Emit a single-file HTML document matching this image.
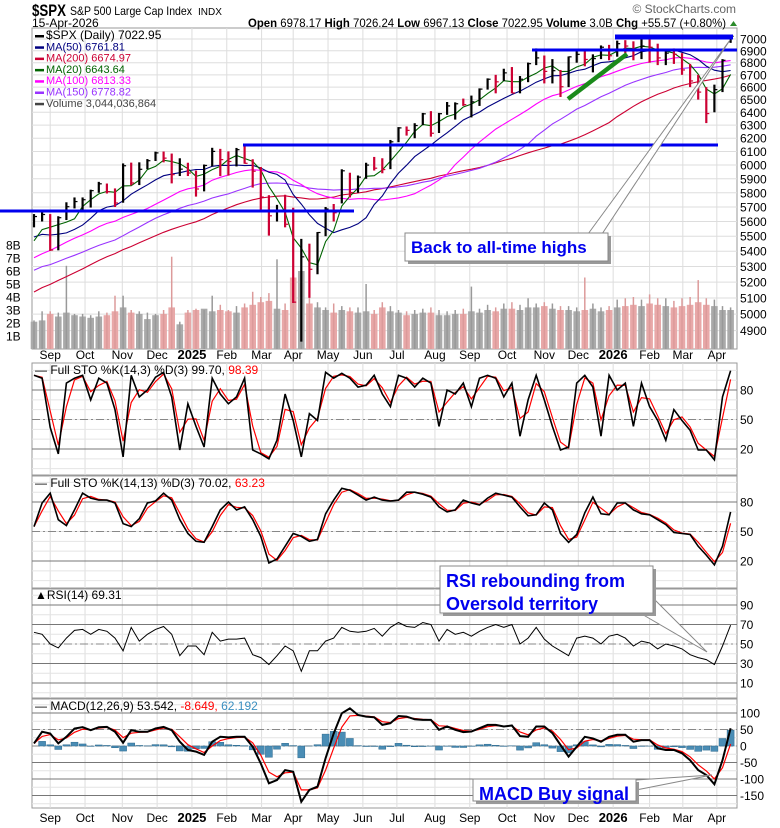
<!DOCTYPE html>
<html><head><meta charset="utf-8"><style>
body{margin:0;background:#fff;}
svg{display:block;font-family:"Liberation Sans",sans-serif;}
</style></head><body>
<svg id="chart" width="780" height="828" viewBox="0 0 780 828" xmlns="http://www.w3.org/2000/svg">
<g id="grid"></g><g id="marks"></g><g id="anno"></g><g id="labels"></g>
</svg>
<script>
const priorCloses=[4514,4559,4594,4604,4719,4754,4769,4697,4783,4839,4890,4958,5026,5005,5088,5137,5123,5117,5234,5254,5204,5123,4967,5099,5127,5222,5303,5304,5277,5346,5431,5464,5460,5567,5615,5505,5459,5346,5344,5554];
const closes=[5634,5648,5408,5626,5702,5738,5751,5815,5864,5808,5728,5995,5870,5969,6032,6090,6051,5930,5970,5942,5827,5997,6101,6040,6026,6114,6013,5955,5770,5639,5667,5581,5074,5363,5282,5525,5686,5660,5958,5802,5912,6000,5977,5967,6173,6279,6260,6297,6388,6238,6389,6450,6467,6460,6482,6584,6664,6643,6716,6553,6664,6792,6840,6728,6734,6603,6849,6870,6827,6834,6930,6858,6960,6940,6915,6940,6930,6840,6880,6870,6740,6650,6560,6390,6580,6820,7023];
const highs=[5651,5670,5651,5636,5733,5767,5767,5822,5878,5866,5831,6012,6018,6020,6044,6099,6100,6085,6050,6017,5960,6004,6128,6120,6101,6127,6147,6043,5986,5783,5715,5786,5695,5482,5450,5528,5700,5721,5969,5944,5924,6017,6060,6050,6187,6285,6290,6315,6395,6409,6395,6481,6478,6508,6532,6590,6671,6700,6750,6764,6690,6801,6920,6860,6830,6740,6852,6895,6902,6870,6945,6950,6986,6990,6980,7000,7002,6960,6910,6920,6880,6790,6700,6600,6620,6830,7026];
const lows=[5560,5600,5402,5406,5610,5690,5675,5696,5800,5795,5700,5730,5853,5855,5970,6030,6020,5867,5920,5920,5773,5810,5990,5920,5923,5990,6010,5837,5666,5504,5600,5560,5069,4835,5101,5250,5500,5600,5725,5767,5800,5900,5960,5940,5970,6170,6220,6200,6300,6212,6240,6380,6343,6450,6360,6450,6580,6550,6650,6550,6550,6640,6780,6630,6630,6521,6600,6800,6770,6720,6830,6820,6850,6880,6820,6830,6800,6780,6780,6790,6700,6600,6500,6316,6400,6560,6967];
const volAvg=[2.1,2.2,2.7,2.5,2.8,2.6,2.5,2.4,2.5,2.6,2.9,3.2,2.8,2.7,2.3,2.6,2.7,3.2,1.9,
2.8,3.0,3.1,2.9,3.0,2.9,2.8,3.2,3.4,3.6,3.7,3.1,3.0,5.5,6.0,3.5,3.2,3.0,2.8,3.0,2.9,2.8,2.9,2.7,3.2,2.9,2.8,2.6,2.7,2.8,2.8,2.6,2.6,2.7,2.7,2.9,2.8,3.0,2.9,3.1,3.1,3.0,3.2,3.2,3.3,3.1,3.0,3.0,2.9,3.0,3.1,2.9,
3.0,3.2,3.3,3.4,3.3,3.5,3.4,3.3,3.2,3.3,3.4,3.6,3.4,3.3,3.0,3.0];
const volPeak=[2.2,2.9,2.9,2.8,6.4,2.7,2.7,2.6,2.9,2.8,4.1,4.1,3.0,2.9,2.8,2.7,3.0,7.1,2.1,
3.0,3.1,3.0,4.1,3.4,3.0,3.3,3.5,4.4,4.0,4.3,6.9,3.5,9.0,7.0,4.0,3.6,3.2,3.5,3.3,3.2,3.2,5.0,3.0,3.6,3.3,3.0,2.9,3.0,3.1,3.2,3.0,2.9,3.0,3.1,4.8,3.1,3.4,3.2,3.5,3.6,3.4,3.9,3.5,3.6,3.5,3.3,3.3,3.2,5.5,3.5,3.2,
3.3,3.8,3.9,4.0,3.8,4.2,3.9,3.9,3.7,3.9,4.0,5.3,3.9,3.8,3.3,3.2];
const sto1K=[95,92,42,15,87,92,95,70,92,87,60,12,95,73,80,93,98,73,19,66,43,22,92,76,66,73,92,19,15,10,29,76,49,12,56,49,98,92,97,92,83,85,95,76,63,95,92,83,92,87,43,80,76,87,63,92,95,92,73,87,33,70,95,70,43,19,22,87,95,83,33,95,80,87,43,87,63,49,29,60,49,39,19,19,9,73,99.7];
const sto2K=[55,79,89,62,56,72,89,84,82,82,79,58,55,63,79,81,89,82,62,48,40,39,55,72,80,72,75,62,45,18,22,35,48,45,40,42,68,82,94,92,87,82,85,82,81,82,90,90,88,85,75,70,72,82,79,77,84,89,87,85,75,66,67,79,72,48,39,47,69,85,68,67,79,79,72,68,67,62,57,49,48,47,35,26,16,35,70];
const rsi=[62,60,50,46,56,64,65,60,65,63,56,43,67,53,60,65,68,60,38,48,48,39,62,53,55,55,56,39,36,29,38,48,43,22,43,43,53,56,67,63,62,63,66,58,67,72,68,67,72,70,53,65,60,62,58,63,67,70,67,70,50,56,67,55,48,43,38,56,58,56,50,58,60,56,48,53,51,45,50,48,45,39,36,34,29,48,69.3];
const macd=[8,43,38,8,28,53,57,48,57,58,43,10,48,43,43,53,58,48,13,-12,-17,-27,13,28,26,28,28,-2,-53,-113,-103,-73,-78,-169,-133,-123,-37,38,99,114,94,89,87,64,69,91,89,81,79,79,49,59,49,42,44,54,64,64,59,62,30,28,59,59,39,3,-32,-2,28,23,13,28,34,34,13,18,18,-7,-12,-12,-22,-43,-73,-88,-116,-43,54];
const monthLabels=["Sep","Oct","Nov","Dec","2025","Feb","Mar","Apr","May","Jun","Jul","Aug","Sep","Oct","Nov","Dec","2026","Feb","Mar","Apr"];
const monthIdx=[2.0,6.3,10.9,15.2,19.5,23.8,28.1,32,36.3,40.6,44.8,49.5,53.8,58.4,63,67.2,71.5,76,80.1,84.3];
const priceTicks=[7000,6900,6800,6700,6600,6500,6400,6300,6200,6100,6000,5900,5800,5700,5600,5500,5400,5300,5200,5100,5000,4900];
const volTicks=[1,2,3,4,5,6,7,8];
const stoTicks=[80,50,20];
const rsiTicks=[90,70,50,30,10];
const macdTicks=[100,50,0,-50,-100,-150];

const NS="http://www.w3.org/2000/svg";
const L=32,R=737;
const xS=i=>34+i*8.1;
const yP=p=>39+1883*Math.log10(7000/p);
const yV=v=>349-13*v;
const yS1=v=>449-(v-20)*0.983;
const yS2=v=>561-(v-20)*0.983;
const yR=v=>644-(v-50)*0.975;
const yM=v=>746-v*0.33;
const G=id=>document.getElementById(id);
function mk(tag,attrs,parent){const e=document.createElementNS(NS,tag);for(const k in attrs)e.setAttribute(k,attrs[k]);G(parent).appendChild(e);return e;}
function txt(s,x,y,attrs,parent){const e=mk('text',Object.assign({x:x,y:y,'font-size':12,fill:'#000'},attrs),parent||'labels');e.textContent=s;return e;}

const panels=[[28,349,'price-panel'],[363,475,'sto-fast-panel'],[476,588,'sto-slow-panel'],[589,698,'rsi-panel'],[699,808,'macd-panel']];
panels.forEach(p=>{
  const r=mk('rect',{x:L,y:p[0],width:R-L,height:p[1]-p[0],fill:'none',stroke:'#999','stroke-width':1},'grid');
  
  
});
panels.forEach(p=>{monthIdx.forEach(m=>{mk('line',{x1:xS(m),x2:xS(m),y1:p[0],y2:p[1],stroke:'#ddd'},'grid');});});
priceTicks.forEach(t=>{mk('line',{x1:L,x2:R,y1:yP(t),y2:yP(t),stroke:'#ddd'},'grid');
  const e=txt(String(t),740,yP(t)+4.5,{'font-size':12});
  
  });
volTicks.forEach(t=>{const e=txt(t+'B',6,yV(t)+4.5,{'font-size':12});
  
  });
function oscGrid(ys,ticks,top,bot,minor){
  for(let v=minor[0];v<=minor[1];v+=minor[2]){const y=ys(v);if(y>top&&y<bot)mk('line',{x1:L,x2:R,y1:y,y2:y,stroke:'#e4e4e4'},'grid');}
  ticks.forEach(t=>{const y=ys(t);const mid=(t===50||t===0);
    mk('line',{x1:L,x2:R,y1:y,y2:y,stroke:mid?'#888':'#777','stroke-dasharray':mid?'8,3,2,3':'none'},'grid');
    const e=txt(String(t),740,y+4.5,{'font-size':12});
    
    });
}
oscGrid(yS1,stoTicks,363,475,[0,100,10]);
oscGrid(yS2,stoTicks,476,588,[0,100,10]);
oscGrid(yR,rsiTicks,589,698,[0,100,10]);
oscGrid(yM,macdTicks,699,808,[-175,125,25]);
monthLabels.forEach((m,k)=>{[353+6,816+6].forEach(y=>{
  const bold=(m==='2025'||m==='2026');
  const e=txt(m,xS(monthIdx[k]),y,{'font-size':bold?13:12,'font-weight':bold?'bold':'normal','text-anchor':'middle'});
  
  });});

closes.forEach((c,i)=>{
  const up=i===0||c>=closes[i-1];
  const b=mk('rect',{x:xS(i)-3.3,y:yV(volAvg[i]),width:6.6,height:349-yV(volAvg[i]),fill:up?'#aaa':'#e8a8a8'},'marks');
  
  
  const pk=mk('line',{x1:xS(i),x2:xS(i),y1:yV(volPeak[i]),y2:349,stroke:up?'#999':'#dc9a9a','stroke-width':1.5},'marks');
  
  
});
const full=priorCloses.concat(closes);const off=priorCloses.length;
function ma(n){return closes.map((c,i)=>{let s=0;for(let j=off+i-n+1;j<=off+i;j++)s+=full[j];return s/n;});}
[[40,'#cc0033','ma200-line'],[30,'#9933ff','ma150-line'],[20,'#ff00ff','ma100-line'],[10,'#000080','ma50-line'],[4,'#006400','ma20-line']].forEach(m=>{
  const v=ma(m[0]);
  const pl=mk('polyline',{points:v.map((p,i)=>xS(i)+','+yP(p).toFixed(1)).join(' '),fill:'none',stroke:m[1],'stroke-width':1.1},'marks');
  
  
});
closes.forEach((c,i)=>{
  const up=i===0||c>=closes[i-1];const col=up?'#000':'#cc0033';
  const b=mk('line',{x1:xS(i),x2:xS(i),y1:yP(highs[i]),y2:yP(lows[i]),stroke:col,'stroke-width':2.2},'marks');
  
  
  mk('line',{x1:xS(i),x2:xS(i)+3,y1:yP(c),y2:yP(c),stroke:col,'stroke-width':1.2},'marks');
});
function line(vals,ys,col,w,name){const pl=mk('polyline',{points:vals.map((v,i)=>xS(i)+','+ys(v).toFixed(1)).join(' '),fill:'none',stroke:col,'stroke-width':w},'marks');
  
  }
const smooth=a=>a.map((v,i)=>i===0?v:(2*v+a[i-1])/3);
line(smooth(sto1K),yS1,'#ff0000',1.2,'sto-fast-d-line');
line(sto1K,yS1,'#000',1.6,'sto-fast-k-line');
line(smooth(sto2K),yS2,'#ff0000',1.2,'sto-slow-d-line');
line(sto2K,yS2,'#000',1.6,'sto-slow-k-line');
line(rsi,yR,'#000',1,'rsi-line');
const signal=[];macd.forEach((v,i)=>signal.push(i===0?v:signal[i-1]+0.6*(v-signal[i-1])));
macd.forEach((v,i)=>{const h=v-signal[i];
  const b=mk('rect',{x:xS(i)-3.5,y:Math.min(yM(0),yM(h)),width:7,height:Math.abs(yM(h)-yM(0)),fill:'#4a8db5',stroke:'#2d6a8f','stroke-width':0.5},'marks');
  
  });
line(signal,yM,'#ff0000',1.2,'macd-signal-line');
line(macd,yM,'#000',2,'macd-line');

function hl(x1,x2,y,w,name){const e=mk('line',{x1:x1,x2:x2,y1:y,y2:y,stroke:'#0000ee','stroke-width':w},'anno');
  
  }
hl(0,354,211,3,'support-line-5650');
hl(243,718,145,3,'support-line-6150');
hl(532,737,50,3,'resistance-line-6900');
hl(615,733,37,5,'all-time-high-line');
const gl=mk('line',{x1:568,y1:99,x2:627,y2:54,stroke:'#1a8a1a','stroke-width':4.5},'anno');


function callout(x,y,w,h,lines,fs,pts,name){
  mk('polygon',{points:pts,fill:'#fff',stroke:'#888','stroke-width':1},'anno');
  mk('rect',{x:x+3,y:y+3,width:w,height:h,fill:'#999'},'anno');
  const r=mk('rect',{x:x,y:y,width:w,height:h,fill:'#fff',stroke:'#888'},'anno');
  
  
  lines.forEach((s,k)=>{const t=txt(s,x+6,y+fs+3+k*(fs+5),{'font-size':fs,'font-weight':'bold',fill:'#0000ee'},'anno');
    
    });
}
callout(405,233,203,28,['Back to all-time highs'],17,'588,234 730,40 602,234','ath-callout');
callout(440,566,213,47,['RSI rebounding from','Oversold territory'],18,'640,613 707,652 653,598','rsi-callout');
callout(473,779,163,22,['MACD Buy signal'],18,'636,780 712,775 636,790','macd-callout');

function T(s,x,y,a,name){const e=txt(s,x,y,a,'labels');return e;}
T('$SPX',32,16,{'font-size':17,'font-weight':'bold',textLength:34,lengthAdjust:'spacingAndGlyphs'},'ticker-symbol');
T('S&P 500 Large Cap Index',70,15,{'font-size':12,textLength:122,lengthAdjust:'spacingAndGlyphs'},'index-name');
T('INDX',198,15,{'font-size':10},'exchange');
T('15-Apr-2026',32,27,{'font-size':12},'chart-date');
T('© StockCharts.com',736,13,{'font-size':12,fill:'#666','text-anchor':'end'},'watermark');
const q=T('',248,27,{'font-size':12,textLength:478,lengthAdjust:'spacingAndGlyphs'},'quote-summary');
q.innerHTML='<tspan font-weight="bold">Open</tspan> 6978.17 <tspan font-weight="bold">High</tspan> 7026.24 <tspan font-weight="bold">Low</tspan> 6967.13 <tspan font-weight="bold">Close</tspan> 7022.95 <tspan font-weight="bold">Volume</tspan> 3.0B <tspan font-weight="bold">Chg</tspan> +55.57 (+0.80%)';
mk('polygon',{points:'730,26 737,26 733.5,21',fill:'#2a8a2a'},'labels');
const leg=[['$SPX (Daily) 7022.95','#000','price-legend'],['MA(50) 6761.81','#000080','ma50-legend'],['MA(200) 6674.97','#cc0033','ma200-legend'],['MA(20) 6643.64','#006400','ma20-legend'],['MA(100) 6813.33','#ff00ff','ma100-legend'],['MA(150) 6778.82','#9933ff','ma150-legend'],['Volume 3,044,036,864','#444','volume-legend']];
leg.forEach((l,k)=>{const y=39+k*11.3;
  mk('rect',{x:35,y:y-4,width:9,height:2.5,fill:l[1]},'labels');
  T(l[0],46,y,{'font-size':k===0?12:11,fill:l[1]},l[2]);});
const s1=T('',35,374,{'font-size':12},'sto-fast-legend');
s1.innerHTML='\u2014 Full STO %K(14,3) %D(3) 99.70, <tspan fill="#ff0000">98.39</tspan>';
const s2=T('',35,487,{'font-size':12},'sto-slow-legend');
s2.innerHTML='\u2014 Full STO %K(14,13) %D(3) 70.02, <tspan fill="#ff0000">63.23</tspan>';
T('\u25B2RSI(14) 69.31',35,599,{'font-size':12},'rsi-legend');
const m1=T('',35,710,{'font-size':12},'macd-legend');
m1.innerHTML='\u2014 MACD(12,26,9) 53.542, <tspan fill="#ff0000">-8.649,</tspan> <tspan fill="#3a8fc0">62.192</tspan>';
</script>
</body></html>
